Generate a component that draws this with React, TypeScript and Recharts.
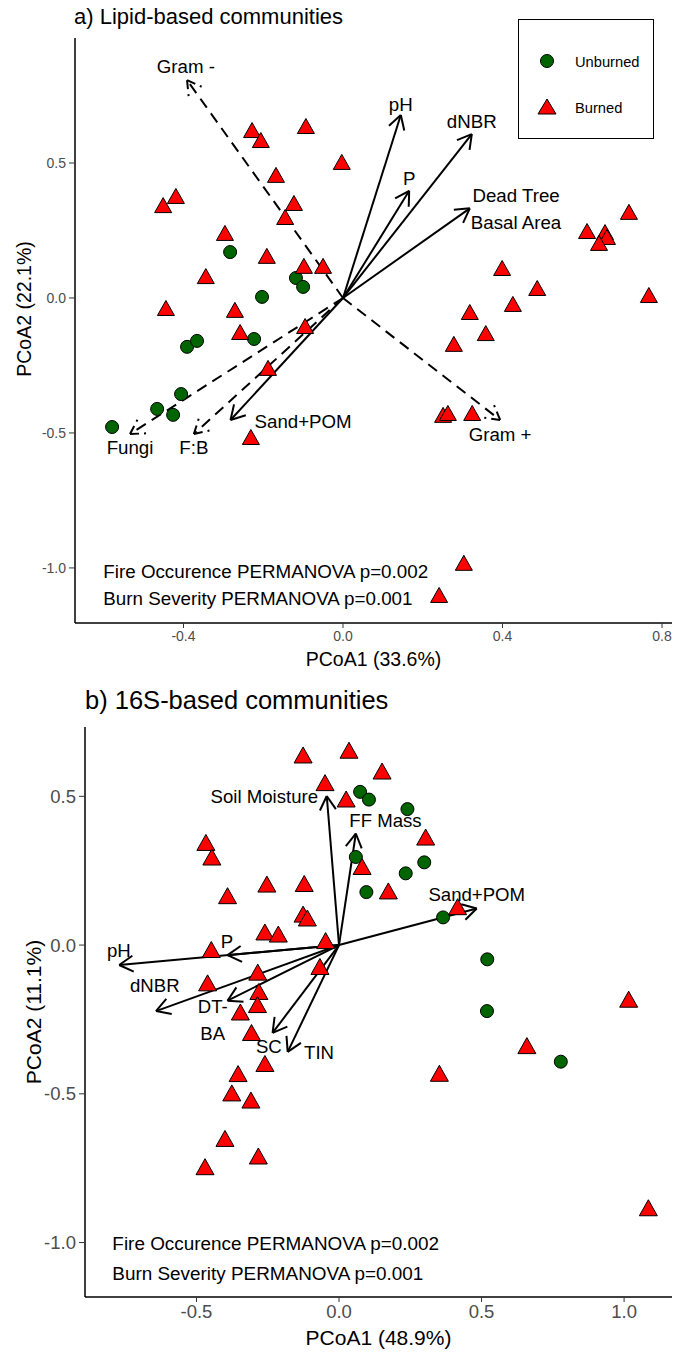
import React from 'react';
import { ScatterChart, Scatter, XAxis, YAxis, ReferenceLine, Legend } from 'recharts';

const FONT = '"Liberation Sans", Arial, Helvetica, sans-serif';

// ---------- a) Lipid-based communities ----------
const lipidUnburned = [
  { x: -0.283, y: 0.170 }, { x: -0.118, y: 0.074 }, { x: -0.100, y: 0.041 },
  { x: -0.203, y: 0.004 }, { x: -0.391, y: -0.181 }, { x: -0.366, y: -0.159 },
  { x: -0.223, y: -0.152 }, { x: -0.406, y: -0.356 }, { x: -0.466, y: -0.411 },
  { x: -0.426, y: -0.433 }, { x: -0.579, y: -0.478 },
];
const lipidBurned = [
  { x: -0.228, y: 0.622 }, { x: -0.206, y: 0.585 }, { x: -0.093, y: 0.637 },
  { x: -0.003, y: 0.504 }, { x: -0.168, y: 0.456 }, { x: -0.419, y: 0.378 },
  { x: -0.451, y: 0.344 }, { x: -0.123, y: 0.352 }, { x: -0.145, y: 0.300 },
  { x: -0.296, y: 0.241 }, { x: -0.191, y: 0.156 }, { x: -0.098, y: 0.119 },
  { x: -0.050, y: 0.119 }, { x: -0.344, y: 0.081 }, { x: -0.444, y: -0.037 },
  { x: -0.271, y: -0.044 }, { x: -0.258, y: -0.126 }, { x: -0.095, y: -0.104 },
  { x: -0.188, y: -0.259 }, { x: -0.231, y: -0.515 }, { x: 0.717, y: 0.319 },
  { x: 0.612, y: 0.248 }, { x: 0.657, y: 0.244 }, { x: 0.662, y: 0.226 },
  { x: 0.642, y: 0.204 }, { x: 0.399, y: 0.111 }, { x: 0.487, y: 0.037 },
  { x: 0.767, y: 0.011 }, { x: 0.426, y: -0.022 }, { x: 0.318, y: -0.052 },
  { x: 0.358, y: -0.130 }, { x: 0.278, y: -0.170 }, { x: 0.251, y: -0.433 },
  { x: 0.263, y: -0.426 }, { x: 0.324, y: -0.426 }, { x: 0.303, y: -0.981 },
  { x: 0.241, y: -1.100 },
];
const lipidVectors = [
  { name: 'Gram -', x: -0.391, y: 0.807 },
  { name: 'Gram +', x: 0.394, y: -0.452 },
  { name: 'Fungi', x: -0.534, y: -0.504 },
  { name: 'F:B', x: -0.374, y: -0.504 },
  { name: 'pH', x: 0.145, y: 0.678 },
  { name: 'dNBR', x: 0.323, y: 0.607 },
  { name: 'P', x: 0.166, y: 0.397 },
  { name: 'Dead Tree Basal Area', x: 0.318, y: 0.332 },
  { name: 'Sand+POM', x: -0.282, y: -0.452 },
];
const lipidDashed = ['Gram -', 'Gram +', 'Fungi', 'F:B'];
const lipidLabels = [
  { text: 'Gram -', x: -0.394, y: 0.859 },
  { text: 'pH', x: 0.145, y: 0.719 },
  { text: 'dNBR', x: 0.323, y: 0.653 },
  { text: 'P', x: 0.166, y: 0.443 },
  { text: 'Dead Tree\nBasal Area', x: 0.434, y: 0.331 },
  { text: 'Sand+POM', x: -0.100, y: -0.455 },
  { text: 'Fungi', x: -0.534, y: -0.552 },
  { text: 'F:B', x: -0.374, y: -0.552 },
  { text: 'Gram +', x: 0.394, y: -0.506 },
];
const lipidStats = [
  { text: 'Fire Occurence PERMANOVA p=0.002', x: -0.601, y: -1.013 },
  { text: 'Burn Severity PERMANOVA p=0.001', x: -0.601, y: -1.113 },
];
const lipidXTicks = [-0.4, 0, 0.4, 0.8];
const lipidYTicks = [-1, -0.5, 0, 0.5];

// ---------- b) 16S-based communities ----------
const bactUnburned = [
  { x: 0.074, y: 0.515 }, { x: 0.105, y: 0.489 }, { x: 0.240, y: 0.457 },
  { x: 0.059, y: 0.296 }, { x: 0.299, y: 0.278 }, { x: 0.234, y: 0.241 },
  { x: 0.096, y: 0.178 }, { x: 0.365, y: 0.093 }, { x: 0.520, y: -0.048 },
  { x: 0.519, y: -0.222 }, { x: 0.778, y: -0.392 },
];
const bactBurned = [
  { x: -0.126, y: 0.639 }, { x: 0.035, y: 0.655 }, { x: 0.151, y: 0.585 },
  { x: -0.049, y: 0.546 }, { x: 0.025, y: 0.491 }, { x: 0.304, y: 0.363 },
  { x: -0.467, y: 0.345 }, { x: -0.446, y: 0.296 }, { x: 0.081, y: 0.264 },
  { x: -0.253, y: 0.205 }, { x: -0.122, y: 0.207 }, { x: -0.391, y: 0.166 },
  { x: 0.173, y: 0.182 }, { x: -0.126, y: 0.104 }, { x: -0.111, y: 0.091 },
  { x: -0.260, y: 0.044 }, { x: -0.213, y: 0.037 }, { x: -0.047, y: 0.015 },
  { x: -0.448, y: -0.015 }, { x: -0.067, y: -0.072 }, { x: -0.285, y: -0.091 },
  { x: -0.461, y: -0.127 }, { x: -0.281, y: -0.156 }, { x: -0.286, y: -0.200 },
  { x: -0.346, y: -0.225 }, { x: -0.307, y: -0.294 }, { x: -0.260, y: -0.398 },
  { x: -0.354, y: -0.432 }, { x: -0.376, y: -0.497 }, { x: -0.309, y: -0.521 },
  { x: -0.400, y: -0.650 }, { x: -0.283, y: -0.709 }, { x: -0.470, y: -0.745 },
  { x: 0.416, y: 0.129 }, { x: 0.659, y: -0.338 }, { x: 0.352, y: -0.431 },
  { x: 1.016, y: -0.182 }, { x: 1.085, y: -0.883 },
];
const bactVectors = [
  { name: 'Soil Moisture', x: -0.043, y: 0.501 },
  { name: 'FF Mass', x: 0.059, y: 0.375 },
  { name: 'Sand+POM', x: 0.483, y: 0.123 },
  { name: 'pH', x: -0.771, y: -0.067 },
  { name: 'P', x: -0.391, y: -0.034 },
  { name: 'dNBR', x: -0.642, y: -0.222 },
  { name: 'DT-BA', x: -0.391, y: -0.187 },
  { name: 'SC', x: -0.233, y: -0.295 },
  { name: 'TIN', x: -0.180, y: -0.359 },
];
const bactLabels = [
  { text: 'Soil Moisture', x: -0.262, y: 0.501 },
  { text: 'FF Mass', x: 0.163, y: 0.418 },
  { text: 'Sand+POM', x: 0.483, y: 0.172 },
  { text: 'pH', x: -0.772, y: -0.017 },
  { text: 'P', x: -0.393, y: 0.013 },
  { text: 'dNBR', x: -0.646, y: -0.136 },
  { text: 'DT-\nBA', x: -0.443, y: -0.252 },
  { text: 'SC', x: -0.246, y: -0.339 },
  { text: 'TIN', x: -0.070, y: -0.359 },
];
const bactStats = [
  { text: 'Fire Occurence PERMANOVA p=0.002', x: -0.795, y: -1.002 },
  { text: 'Burn Severity PERMANOVA p=0.001', x: -0.795, y: -1.103 },
];
const bactXTicks = [-0.5, 0, 0.5, 1];
const bactYTicks = [-1, -0.5, 0, 0.5];

const fmt = (v: number) => v.toFixed(1);

const circle = (r: number) => (p: any) => (
  <circle cx={p.cx} cy={p.cy} r={r} fill="#006400" stroke="#000" strokeWidth={1} />
);

const triangle = (w: number, h: number) => (p: any) => (
  <polygon
    points={`${p.cx},${p.cy - h / 2} ${p.cx - w / 2},${p.cy + h / 2} ${p.cx + w / 2},${p.cy + h / 2}`}
    fill="#FF0000"
    stroke="#000"
    strokeWidth={1}
    strokeLinejoin="round"
  />
);

const arrow = (dashed: boolean) => (p: any) => {
  const { x1, y1, x2, y2 } = p;
  const ang = Math.atan2(y2 - y1, x2 - x1);
  const len = 16;
  const spread = Math.PI / 6;
  const ax = x2 - len * Math.cos(ang - spread);
  const ay = y2 - len * Math.sin(ang - spread);
  const bx = x2 - len * Math.cos(ang + spread);
  const by = y2 - len * Math.sin(ang + spread);
  const dash = dashed ? '11 7' : undefined;
  return (
    <g stroke="#000" strokeWidth={2} fill="none">
      <line x1={x1} y1={y1} x2={x2} y2={y2} strokeDasharray={dash} />
      <line x1={x2} y1={y2} x2={ax} y2={ay} strokeDasharray={dashed ? '9 5' : undefined} />
      <line x1={x2} y1={y2} x2={bx} y2={by} strokeDasharray={dashed ? '9 5' : undefined} />
    </g>
  );
};

const label = (size: number, anchor: 'middle' | 'start') => (p: any) => {
  const lines = String(p.payload.text).split('\n');
  const lh = size * 1.45;
  const y0 = p.cy - ((lines.length - 1) * lh) / 2 + size * 0.36;
  return (
    <text textAnchor={anchor} fontSize={size} fontFamily={FONT} fill="#000">
      {lines.map((l, i) => (
        <tspan key={i} x={p.cx} y={y0 + i * lh}>{l}</tspan>
      ))}
    </text>
  );
};

const xTitle = (text: string, y: number, size: number) => (p: any) => {
  const vb = p.viewBox || {};
  return (
    <text x={vb.x + vb.width / 2} y={y} textAnchor="middle" fontSize={size} fontFamily={FONT} fill="#000">
      {text}
    </text>
  );
};

// axis title rotated, centred at cy (falls back to the middle of the plot)
const yTitle = (text: string, x: number, size: number, cyFixed?: number) => (p: any) => {
  const vb = p.viewBox || {};
  const cy = cyFixed ?? vb.y + vb.height / 2;
  return (
    <text x={x} y={cy} transform={`rotate(-90 ${x} ${cy})`} textAnchor="middle" dominantBaseline="central"
      fontSize={size} fontFamily={FONT} fill="#000">
      {text}
    </text>
  );
};

const LegendBox = () => (
  <div style={{ width: 136, height: 120, border: '1.5px solid #000', boxSizing: 'border-box', background: '#fff', position: 'relative', fontFamily: FONT, fontSize: 14.7 }}>
    <svg width={136} height={120} style={{ position: 'absolute', left: 0, top: 0 }}>
      <circle cx={28} cy={41} r={6.5} fill="#006400" stroke="#000" />
      <polygon points="28,79 19,94 37,94" fill="#FF0000" stroke="#000" />
      <text x={56} y={47} fontSize={14.7} fontFamily={FONT} fill="#000">Unburned</text>
      <text x={56} y={93} fontSize={14.7} fontFamily={FONT} fill="#000">Burned</text>
    </svg>
  </div>
);

const tickStyle = (size: number) => ({ fill: '#4d4d4d', fontSize: size, fontFamily: FONT });
const axisLine = { stroke: '#000', strokeWidth: 1.5 };
const tickLine = { stroke: '#333', strokeWidth: 1 };

const LipidPanel = () => (
  <ScatterChart width={674} height={690} margin={{ top: 38, right: 2, bottom: 37, left: 35 }}>
    <XAxis type="number" dataKey="x" domain={[-0.672, 0.825]} allowDataOverflow ticks={lipidXTicks}
      tickFormatter={fmt} tick={tickStyle(14)} tickSize={5} tickMargin={3} axisLine={axisLine}
      tickLine={tickLine} height={30} label={xTitle('PCoA1 (33.6%)', 666, 19.5)} />
    <YAxis type="number" dataKey="y" domain={[-1.204, 0.963]} allowDataOverflow ticks={lipidYTicks}
      tickFormatter={fmt} tick={tickStyle(14)} tickSize={6} tickMargin={3} axisLine={axisLine}
      tickLine={tickLine} width={40} label={yTitle('PCoA2 (22.1%)', 24, 19.5, 309)} />
    <Scatter name="Unburned" data={lipidUnburned} shape={circle(6.5)} isAnimationActive={false} />
    <Scatter name="Burned" data={lipidBurned} shape={triangle(17, 15)} isAnimationActive={false} />
    {lipidVectors.map((v) => (
      <ReferenceLine key={v.name} segment={[{ x: 0, y: 0 }, { x: v.x, y: v.y }]}
        shape={arrow(lipidDashed.includes(v.name))} ifOverflow="visible" />
    ))}
    <Scatter data={lipidLabels} shape={label(18.7, 'middle')} legendType="none" isAnimationActive={false} />
    <Scatter data={lipidStats} shape={label(18.8, 'start')} legendType="none" isAnimationActive={false} />
    <Legend layout="vertical" align="center" verticalAlign="middle" content={() => <LegendBox />}
      wrapperStyle={{ left: 518, top: 19, width: 136, height: 120 }} />
  </ScatterChart>
);

const BactPanel = () => (
  <ScatterChart width={674} height={662} margin={{ top: 37, right: 2, bottom: 25, left: 40 }}>
    <XAxis type="number" dataKey="x" domain={[-0.891, 1.168]} allowDataOverflow ticks={bactXTicks}
      tickFormatter={fmt} tick={tickStyle(18.5)} tickSize={5} tickMargin={3} axisLine={axisLine}
      tickLine={tickLine} height={30} label={xTitle('PCoA1 (48.9%)', 655, 21)} />
    <YAxis type="number" dataKey="y" domain={[-1.183, 0.733]} allowDataOverflow ticks={bactYTicks}
      tickFormatter={fmt} tick={tickStyle(18.5)} tickSize={6} tickMargin={3} axisLine={axisLine}
      tickLine={tickLine} width={45} label={yTitle('PCoA2 (11.1%)', 33, 21)} />
    <Scatter name="Unburned" data={bactUnburned} shape={circle(6.5)} isAnimationActive={false} />
    <Scatter name="Burned" data={bactBurned} shape={triangle(18, 16)} isAnimationActive={false} />
    {bactVectors.map((v) => (
      <ReferenceLine key={v.name} segment={[{ x: 0, y: 0 }, { x: v.x, y: v.y }]}
        shape={arrow(false)} ifOverflow="visible" />
    ))}
    <Scatter data={bactLabels} shape={label(18.6, 'middle')} legendType="none" isAnimationActive={false} />
    <Scatter data={bactStats} shape={label(18.9, 'start')} legendType="none" isAnimationActive={false} />
  </ScatterChart>
);

export default function App() {
  return (
    <div style={{ position: 'absolute', left: 0, top: 0, width: 674, height: 1352, background: '#fff', fontFamily: FONT }}>
      <div style={{ position: 'absolute', left: 0, top: 0 }}>
        <LipidPanel />
      </div>
      <div style={{ position: 'absolute', left: 74, top: 6, fontSize: 22, lineHeight: '22px', color: '#000' }}>
        a) Lipid-based communities
      </div>
      <div style={{ position: 'absolute', left: 0, top: 690 }}>
        <BactPanel />
      </div>
      <div style={{ position: 'absolute', left: 85, top: 688, fontSize: 25.5, lineHeight: '25.5px', color: '#000' }}>
        b) 16S-based communities
      </div>
    </div>
  );
}
